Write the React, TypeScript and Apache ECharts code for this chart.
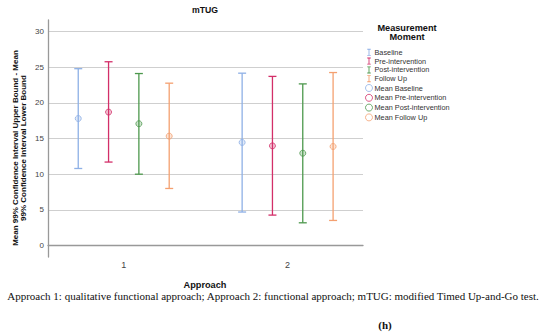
import React, { useEffect, useRef } from "react";
import * as echarts from "echarts";

const moments = ["Baseline", "Pre-intervention", "Post-intervention", "Follow Up"];
const approaches = [1, 2];
const colors = ["#8eb0e6", "#d32f69", "#4d984d", "#f4a070"];
const offsets = [-0.2775, -0.0925, 0.0925, 0.2775];
// per moment: values for approach 1, approach 2
const means = [
  [17.8, 14.45],
  [18.7, 13.97],
  [17.07, 12.94],
  [15.33, 13.88],
];
const lower = [
  [10.8, 4.7],
  [11.7, 4.27],
  [10.0, 3.19],
  [8.0, 3.52],
];
const upper = [
  [24.78, 24.15],
  [25.75, 23.7],
  [24.1, 22.65],
  [22.75, 24.24],
];
const yTicks = [0, 5, 10, 15, 20, 25, 30];
const xTicks = [1, 2];
const yTitle = "Mean 99% Confidence Interval Upper Bound - Mean\n99% Confidence Interval Lower Bound";
const caption =
  "Approach 1: qualitative functional approach; Approach 2: functional approach; mTUG: modified Timed Up-and-Go test.";

const iconI = "path://M0,0h4v1h-1.5v6h1.5v1h-4v-1h1.5v-6h-1.5z";

export default function App() {
  const ref = useRef<HTMLDivElement>(null);
  useEffect(() => {
    if (!ref.current) return;
    const chart = echarts.init(ref.current, undefined, { renderer: "svg" });
    const errSeries = moments.map((m, i) => ({
      name: m,
      type: "custom",
      itemStyle: { color: colors[i] },
      clip: false,
      data: approaches.map((a, j) => [a + offsets[i], lower[i][j], upper[i][j]]),
      renderItem: (params: any, api: any) => {
        const x = api.value(0);
        const lo = api.coord([x, api.value(1)]);
        const hi = api.coord([x, api.value(2)]);
        const hw = 4;
        const style = { stroke: colors[i], lineWidth: 1.3, fill: "none" };
        return {
          type: "group",
          children: [
            { type: "line", shape: { x1: lo[0], y1: lo[1], x2: hi[0], y2: hi[1] }, style },
            { type: "line", shape: { x1: lo[0] - hw, y1: lo[1], x2: lo[0] + hw, y2: lo[1] }, style },
            { type: "line", shape: { x1: hi[0] - hw, y1: hi[1], x2: hi[0] + hw, y2: hi[1] }, style },
          ],
        };
      },
    }));
    const meanSeries = moments.map((m, i) => ({
      name: "Mean " + m,
      type: "scatter",
      symbol: "circle",
      symbolSize: 6,
      z: 5,
      itemStyle: { color: colors[i] + "55", borderColor: colors[i], borderWidth: 1 },
      data: approaches.map((a, j) => [a + offsets[i], means[i][j]]),
    }));
    const legendData = [
      ...moments.map((m, i) => ({ name: m, icon: iconI, itemStyle: { color: colors[i] } })),
      ...moments.map((m, i) => ({
        name: "Mean " + m,
        icon: "circle",
        itemStyle: { color: "#ffffff", borderColor: colors[i], borderWidth: 1 },
      })),
    ];
    chart.setOption({
      animation: false,
      textStyle: { fontFamily: "Liberation Sans, Arial, sans-serif" },
      title: [
        {
          text: "mTUG",
          left: 205,
          top: 5.5,
          padding: 0,
          textAlign: "center",
          textStyle: { fontSize: 8.7, fontWeight: "bold", color: "#111" },
        },
        {
          text: "Measurement\nMoment",
          left: 407,
          top: 23.8,
          padding: 0,
          textAlign: "center",
          textStyle: { fontSize: 9.2, fontWeight: "bold", color: "#111", lineHeight: 9 },
        },
      ],
      legend: {
        orient: "vertical",
        left: 365,
        top: 48.8,
        itemWidth: 7,
        itemHeight: 7,
        itemGap: 1.8,
        padding: 0,
        textStyle: { fontSize: 7.3, color: "#333", padding: [0, 0, 0, -3], lineHeight: 7 },
        data: legendData,
      },
      grid: { left: 48, right: 187, top: 20, bottom: 76 },
      xAxis: {
        type: "value",
        min: 0.538,
        max: 2.46,
        axisLine: { show: true, lineStyle: { color: "#999", width: 1.3 } },
        axisTick: { show: false, customValues: xTicks },
        axisLabel: { customValues: xTicks, fontSize: 9, color: "#444", margin: 3 },
        splitLine: { show: false },
      },
      yAxis: {
        type: "value",
        min: -1.6,
        max: 31.6,
        axisLine: { show: true, lineStyle: { color: "#999", width: 1.3 } },
        axisTick: { show: false, customValues: yTicks },
        axisLabel: { customValues: yTicks, fontSize: 8, color: "#444", margin: 4 },
        splitLine: { show: true, lineStyle: { color: "#cfcfcf", width: 1 } },
      },
      graphic: [
        {
          type: "text",
          x: 19.5,
          y: 148,
          rotation: Math.PI / 2,
          style: {
            text: yTitle,
            align: "center",
            verticalAlign: "middle",
            fontSize: 8,
            fontWeight: "bold",
            lineHeight: 8,
            fill: "#111",
            fontFamily: "Liberation Sans, Arial, sans-serif",
          },
        },
        {
          type: "text",
          x: 205,
          y: 285,
          style: {
            text: "Approach",
            align: "center",
            verticalAlign: "middle",
            fontSize: 9.2,
            fontWeight: "bold",
            fill: "#111",
            fontFamily: "Liberation Sans, Arial, sans-serif",
          },
        },
        {
          type: "text",
          x: 273,
          y: 296,
          style: {
            text: caption,
            align: "center",
            verticalAlign: "middle",
            fontSize: 11,
            fill: "#111",
            fontFamily: "Liberation Serif, Times New Roman, serif",
          },
        },
        {
          type: "text",
          x: 385,
          y: 325,
          style: {
            text: "(h)",
            align: "center",
            verticalAlign: "middle",
            fontSize: 11,
            fontWeight: "bold",
            fill: "#111",
            fontFamily: "Liberation Serif, Times New Roman, serif",
          },
        },
      ],
      series: [...errSeries, ...meanSeries],
    });
    return () => chart.dispose();
  }, []);
  return (
    <div
      ref={ref}
      style={{ position: "fixed", left: 0, top: 0, width: 550, height: 333, background: "#fff" }}
    />
  );
}
